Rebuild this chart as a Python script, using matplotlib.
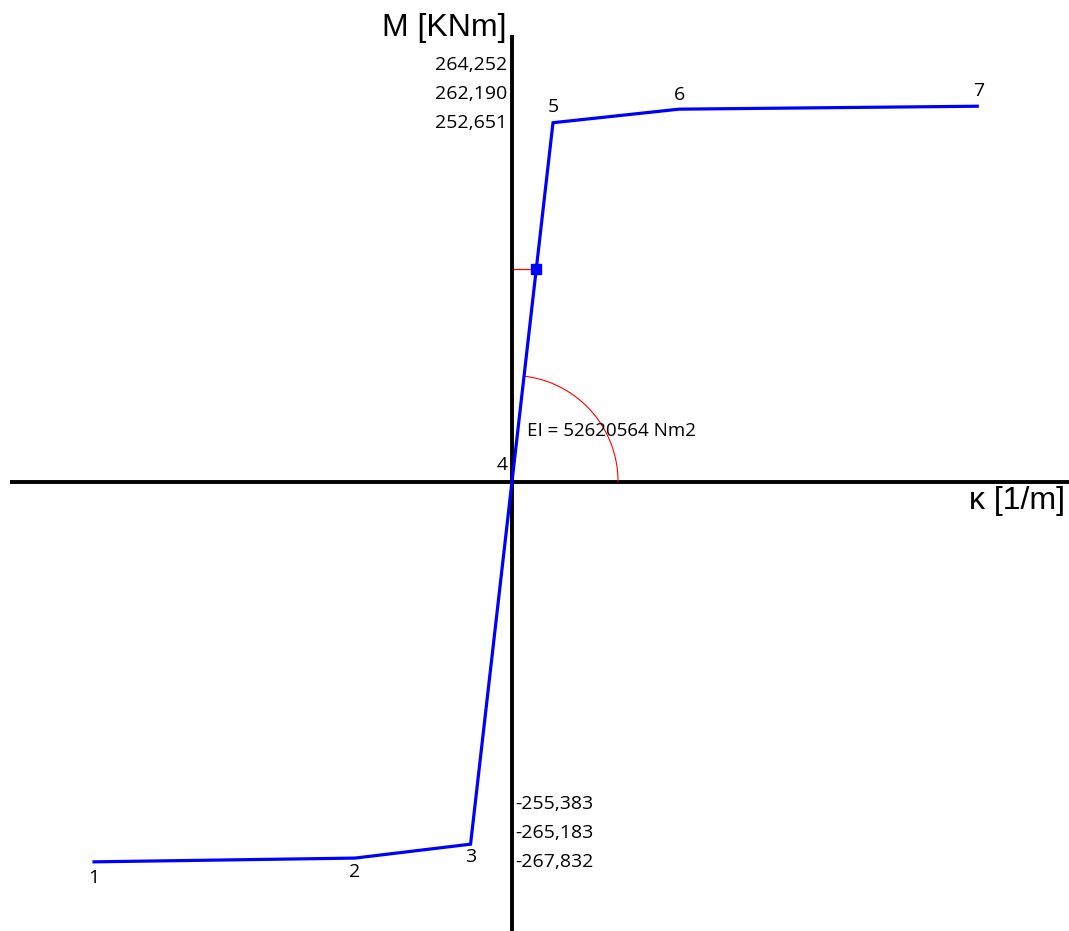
import numpy as np
import matplotlib
matplotlib.use("Agg")
import matplotlib.pyplot as plt

# ---- data ----
point_ids = ["1", "2", "3", "4", "5", "6", "7"]
kappa = [-0.04895, -0.01839, -0.004853, 0.0, 0.004801, 0.01956, 0.05449]   # 1/m
moment = [-267.832, -265.183, -255.383, 0.0, 252.651, 262.190, 264.252]    # kNm
pos_labels = ["252,651", "262,190", "264,252"]
neg_labels = ["-267,832", "-265,183", "-255,383"]
EI = 52620.564            # kNm2
EI_text = "EI = 52620564 Nm2"
M_mark = 149.4            # kNm
kappa_mark = M_mark / EI

# ---- layout (pixel scale) ----
W, H = 1069, 931
ox, oy = 512, 481.5
pxk = 8539.0      # px per 1/m
pxm = 1.4201      # px per kNm

fig = plt.figure(figsize=(W / 100, H / 100), dpi=100)
ax = fig.add_axes([0, 0, 1, 1])
ax.set_xlim(-ox / pxk, (W - ox) / pxk)
ax.set_ylim(-(H - oy) / pxm, oy / pxm)
ax.axis("off")

num_font = "Open Sans"
ax_font = "Liberation Sans"

# axes
ax.plot([-(ox - 10) / pxk, (W - ox) / pxk], [0, 0], color="black", lw=2.8, solid_capstyle="butt")
ax.plot([0, 0], [-(H - oy) / pxm, (oy - 35) / pxm], color="black", lw=2.8, solid_capstyle="butt")

# curve
ax.plot(kappa, moment, color="#0000ff", lw=2.3, solid_joinstyle="miter", zorder=3)

# marker and red guide
ax.plot([1.5 / pxk, kappa_mark], [M_mark, M_mark], color="red", lw=0.9, zorder=4)
ax.plot([kappa_mark], [M_mark], marker="s", color="#0000ff", markersize=7.7, zorder=5)

# EI arc
r = 106.0
theta_end = np.arctan2(moment[4] * pxm, kappa[4] * pxk)
t = np.linspace(0, theta_end, 100)
ax.plot(r * np.cos(t) / pxk, r * np.sin(t) / pxm, color="red", lw=0.8, zorder=2)
ax.text(15 / pxk, 51 / pxm, EI_text, fontsize=13.5, family=num_font, va="center", ha="left")

# point labels
offsets = {"1": (0, -16), "2": (0, -14), "3": (0, -13), "4": (-10, 16),
           "5": (0, 16), "6": (0, 14), "7": (1, 15)}
for pid, k, m in zip(point_ids, kappa, moment):
    dx, dy = offsets[pid]
    ax.annotate(pid, (k, m), xytext=(dx * 0.72, dy * 0.72), textcoords="offset points",
                ha="center", va="center", fontsize=14, family=num_font)

# value labels on the M axis
for i, lab in enumerate(pos_labels):
    ax.annotate(lab, (0, moment[4]), xytext=(-5 * 0.72, 29 * i * 0.72),
                textcoords="offset points", ha="right", va="center",
                fontsize=14, family=num_font)
for i, lab in enumerate(neg_labels):
    ax.annotate(lab, (0, moment[0]), xytext=(3 * 0.72, 29 * i * 0.72),
                textcoords="offset points", ha="left", va="center",
                fontsize=14, family=num_font)

# axis titles
ax.text(-6 / pxk, (oy - 28) / pxm, "M [KNm]", fontsize=23, family=ax_font, ha="right", va="center")
ax.text((W - 4 - ox) / pxk, -(501 - oy) / pxm, "κ [1/m]", fontsize=23, family=ax_font, ha="right", va="center")

fig.savefig("out.png", dpi=100)
